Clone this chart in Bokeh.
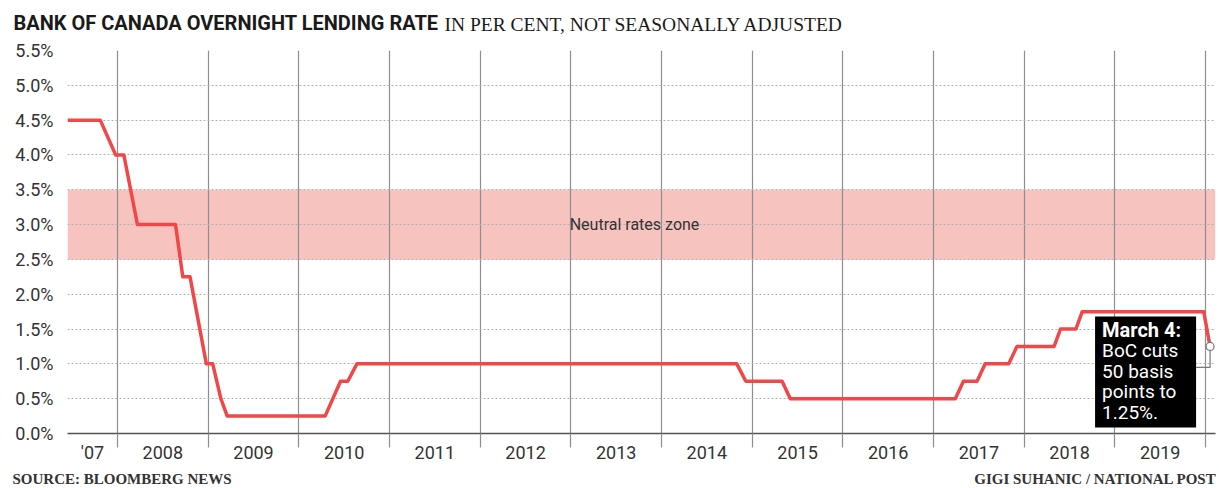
from bokeh.plotting import figure
from bokeh.models import FixedTicker, BoxAnnotation
from bokeh.core.properties import value
from bokeh.embed import file_html
from bokeh.resources import INLINE

# ---------------- data ----------------
title_main = "BANK OF CANADA OVERNIGHT LENDING RATE"
title_sub = "IN PER CENT, NOT SEASONALLY ADJUSTED"
source_text = "SOURCE: BLOOMBERG NEWS"
credit_text = "GIGI SUHANIC / NATIONAL POST"

# decimal-year dates of the line's vertices and the overnight rate (%)
dates = [2007.449, 2007.81, 2007.98, 2008.07, 2008.22, 2008.64, 2008.72, 2008.80,
         2008.98, 2009.05, 2009.14, 2009.21, 2010.29, 2010.46, 2010.54, 2010.64,
         2014.83, 2014.93, 2015.33, 2015.42, 2017.24, 2017.33, 2017.48, 2017.57,
         2017.83, 2017.92, 2018.33, 2018.40, 2018.57, 2018.64, 2019.98, 2020.05]
rates = [4.50, 4.50, 4.00, 4.00, 3.00, 3.00, 2.25, 2.25,
         1.00, 1.00, 0.50, 0.25, 0.25, 0.75, 0.75, 1.00,
         1.00, 0.75, 0.75, 0.50, 0.50, 0.75, 0.75, 1.00,
         1.00, 1.25, 1.25, 1.50, 1.50, 1.75, 1.75, 1.25]

years = list(range(2007, 2020))
year_labels = ["'07", "2008", "2009", "2010", "2011", "2012", "2013",
               "2014", "2015", "2016", "2017", "2018", "2019"]
year_bounds = list(range(2008, 2021))

y_ticks = [0.0, 0.5, 1.0, 1.5, 2.0, 2.5, 3.0, 3.5, 4.0, 4.5, 5.0, 5.5]
y_labels = ["0.0%", "0.5%", "1.0%", "1.5%", "2.0%", "2.5%", "3.0%",
            "3.5%", "4.0%", "4.5%", "5.0%", "5.5%"]

neutral_low, neutral_high = 2.5, 3.5
neutral_label = "Neutral rates zone"

annot_lines = ["March 4:", "BoC cuts", "50 basis", "points to", "1.25%."]

# ---------------- layout ----------------
W, H = 1219, 488
FL, FR, FT, FH = 67, 4, 50, 383
FW = W - FL - FR
FB = H - FT - FH
PX_PER_YEAR = 90.67
X0 = 2008 - 50 / PX_PER_YEAR
X1 = X0 + FW / PX_PER_YEAR
Y0, Y1 = 0.0, 5.5
PX_PER_PCT = FH / (Y1 - Y0)


def px_x(px):
    """canvas pixel column -> data x (for placing texts)"""
    return X0 + (px - FL) / PX_PER_YEAR


def px_y(py):
    """canvas pixel row -> data y (for placing texts)"""
    return Y0 + (FT + FH - py) / PX_PER_PCT


p = figure(width=W, height=H, x_range=(X0, X1), y_range=(Y0, Y1),
           output_backend="svg", toolbar_location=None,
           min_border_left=FL, min_border_right=FR,
           min_border_top=FT, min_border_bottom=FB)
p.outline_line_color = None
p.background_fill_color = "white"
p.border_fill_color = "white"

# neutral band (drawn beneath the grid)
p.add_layout(BoxAnnotation(bottom=neutral_low, top=neutral_high,
                           fill_color="#F7C3BF", fill_alpha=1.0,
                           line_color=None, level="image"))

# grids
p.xgrid.ticker = FixedTicker(ticks=year_bounds)
p.xgrid.grid_line_color = "#8e8e8e"
p.xgrid.grid_line_width = 1.2
p.ygrid.ticker = FixedTicker(ticks=y_ticks)
p.ygrid.grid_line_color = "#b0b0b0"
p.ygrid.grid_line_dash = "2 2"
p.ygrid.grid_line_width = 1

# x axis: labels centred in each year, separators as minor ticks
centers = [(max(y, X0) + y + 1) / 2 for y in years]
p.xaxis.ticker = FixedTicker(ticks=centers, minor_ticks=year_bounds)
p.xaxis.major_label_overrides = dict(zip(centers, year_labels))
p.xaxis.axis_line_color = "#555555"
p.xaxis.axis_line_width = 1.6
p.xaxis.major_tick_line_color = None
p.xaxis.major_tick_out = 0
p.xaxis.major_tick_in = 0
p.xaxis.minor_tick_line_color = "#8e8e8e"
p.xaxis.minor_tick_line_width = 1.2
p.xaxis.minor_tick_out = 14
p.xaxis.minor_tick_in = 0
p.xaxis.major_label_standoff = -6
p.xaxis.major_label_text_font = "Roboto"
p.xaxis.major_label_text_font_size = "18px"
p.xaxis.major_label_text_color = "#333333"

# y axis
p.yaxis.ticker = FixedTicker(ticks=y_ticks)
p.yaxis.major_label_overrides = dict(zip(y_ticks, y_labels))
p.yaxis.axis_line_color = None
p.yaxis.major_tick_line_color = None
p.yaxis.minor_tick_line_color = None
p.yaxis.major_tick_out = 0
p.yaxis.major_label_standoff = 14
p.yaxis.major_label_text_font = "Roboto"
p.yaxis.major_label_text_font_size = "18px"
p.yaxis.major_label_text_color = "#333333"

# band label
p.text(x=[px_x(634)], y=[(neutral_low + neutral_high) / 2], text=[neutral_label],
       text_font=value("Roboto"), text_font_size=value("16px"), text_color="#333333",
       text_align="center", text_baseline="middle")

# rate line
p.line(dates, rates, line_color="#F04848", line_width=3.5, line_join="round")

# annotation: leader, end marker, black box, text
lx, ly = dates[-1], rates[-1]
box_right = lx - 14 / PX_PER_YEAR
box_left = box_right - 101 / PX_PER_YEAR
box_top = ly + 30 / PX_PER_PCT
box_bottom = box_top - 111 / PX_PER_PCT
lead_y = ly - 21 / PX_PER_PCT
p.line([lx, lx, box_right], [ly, lead_y, lead_y], line_color="#777777", line_width=1.2)
p.scatter([lx], [ly], size=8, fill_color="white", line_color="#777777", line_width=1.2)
p.add_layout(BoxAnnotation(left=box_left, right=box_right, top=box_top, bottom=box_bottom,
                           fill_color="black", fill_alpha=1.0, line_color=None,
                           level="annotation"))
tx = box_left + 7 / PX_PER_YEAR
ty = [box_top - (14 + 20.5 * i) / PX_PER_PCT for i in range(len(annot_lines))]
p.text(x=[tx], y=ty[:1], text=annot_lines[:1], text_font=value("Roboto"),
       text_font_size=value("20px"), text_font_style="bold", text_color="white",
       text_align="left", text_baseline="middle", level="overlay")
p.text(x=[tx] * (len(annot_lines) - 1), y=ty[1:], text=annot_lines[1:],
       text_font=value("Roboto"), text_font_size=value("19px"), text_color="white",
       text_align="left", text_baseline="middle", level="overlay")

# header and footer (overlay level so they are drawn outside the frame)
p.text(x=[px_x(13)], y=[px_y(22)], text=[title_main], text_font=value("Roboto"),
       text_font_size=value("20px"), text_font_style="bold", text_color="#1a1a1a",
       text_align="left", text_baseline="middle", level="overlay")
p.text(x=[px_x(444)], y=[px_y(23.5)], text=[title_sub], text_font=value("Liberation Serif"),
       text_font_size=value("19.5px"), text_color="#1a1a1a",
       text_align="left", text_baseline="middle", level="overlay")
p.text(x=[px_x(12)], y=[px_y(478)], text=[source_text], text_font=value("Liberation Serif"),
       text_font_size=value("15px"), text_font_style="bold", text_color="#333333",
       text_align="left", text_baseline="middle", level="overlay")
p.text(x=[px_x(1216)], y=[px_y(478)], text=[credit_text], text_font=value("Liberation Serif"),
       text_font_size=value("15px"), text_font_style="bold", text_color="#333333",
       text_align="right", text_baseline="middle", level="overlay")

open("out.html", "w").write(file_html(p, INLINE))
